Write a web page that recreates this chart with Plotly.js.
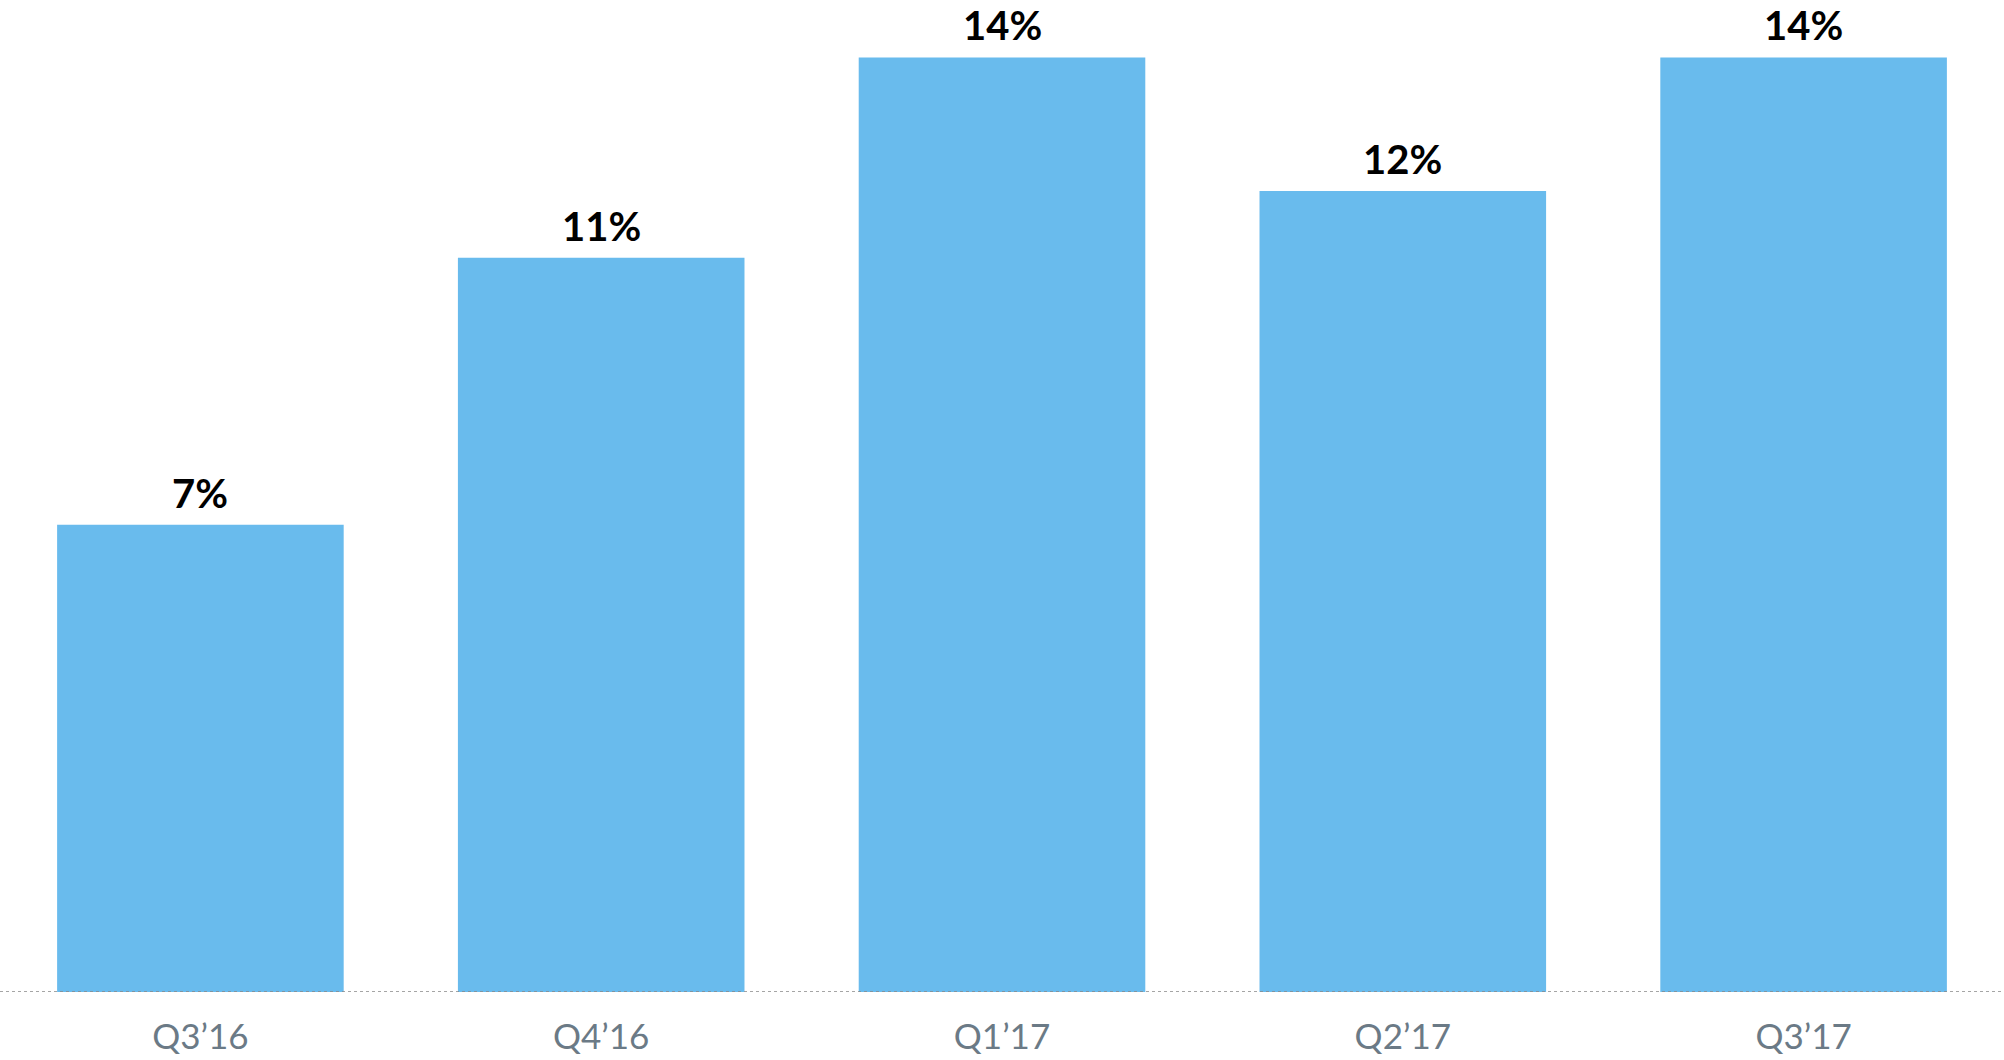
<!DOCTYPE html>
<html>
<head>
<meta charset="utf-8">
<script src="https://cdn.plot.ly/plotly-3.0.1.min.js"></script>
<style>html,body{margin:0;padding:0;background:#fff;}#chart{width:2004px;height:1060px;}</style>
</head>
<body>
<div id="chart"></div>
<script>
const categories = ["Q3\u201916", "Q4\u201916", "Q1\u201917", "Q2\u201917", "Q3\u201917"];
const values = [7, 11, 14, 12, 14];
const valueLabels = ["7%", "11%", "14%", "12%", "14%"];

const trace = {
  type: 'bar',
  x: categories,
  y: values,
  marker: {color: '#69BBED'},
  hoverinfo: 'none'
};

const annotations = categories.map((c, i) => ({
  x: c, y: values[i], xref: 'x', yref: 'y',
  text: '<b>' + valueLabels[i] + '</b>',
  showarrow: false, yanchor: 'bottom', yshift: 7, borderpad: 0,
  font: {family: 'Lato, sans-serif', size: 40, color: '#000'}
}));

const layout = {
  width: 2004, height: 1060,
  margin: {l: 0, r: 0, t: 0, b: 68, pad: 0},
  paper_bgcolor: '#fff', plot_bgcolor: '#fff',
  bargap: 0.285,
  showlegend: false,
  xaxis: {
    type: 'category',
    showgrid: false, zeroline: false, showline: false,
    ticks: 'outside', ticklen: 14, tickcolor: 'rgba(0,0,0,0)',
    tickfont: {family: 'Lato, sans-serif', size: 35, color: '#6B7A86'}
  },
  yaxis: {
    range: [0, 14.86],
    showgrid: false, zeroline: false, showline: false,
    showticklabels: false, ticks: ''
  },
  shapes: [{
    type: 'line', xref: 'paper', yref: 'y', x0: 0, x1: 1, y0: 0, y1: 0,
    line: {color: '#888', width: 1.5, dash: 'dot'}
  }],
  annotations: annotations
};

Plotly.newPlot('chart', [trace], layout, {displayModeBar: false, staticPlot: true});
</script>
</body>
</html>
